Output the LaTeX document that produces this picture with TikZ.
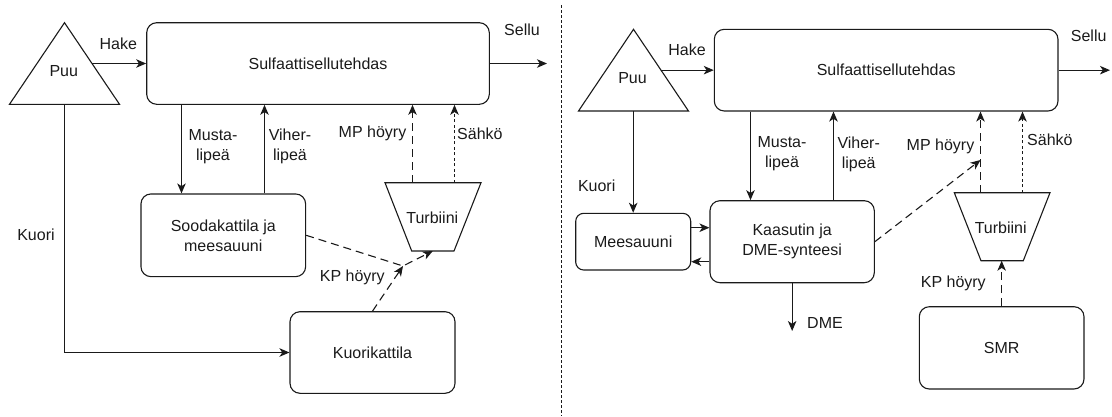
\documentclass[tikz,border=0pt]{standalone}
\usepackage{fontspec}
\setmainfont{Liberation Sans}
\usetikzlibrary{arrows.meta}
\definecolor{ink}{HTML}{1A1A1A}
\begin{document}
\begin{tikzpicture}[x=1pt,y=-1pt,
  font=\fontsize{16}{20}\selectfont,
  every node/.style={text=ink},
  box/.style={draw=ink, line width=1.1pt, rounded corners=10pt, inner sep=0pt, align=center},
  smallbox/.style={box, rounded corners=8pt},
  lbl/.style={inner sep=0pt, align=center},
  ln/.style={draw=ink, line width=1.1pt},
  arr/.style={draw=ink, line width=1.1pt, -{Stealth[length=10pt,width=8.5pt,inset=2.8pt]}},
  dsh/.style={dash pattern=on 8pt off 5pt},
  dtd/.style={dash pattern=on 3pt off 2.5pt},
  sep/.style={draw=ink, line width=1pt, dash pattern=on 3pt off 2pt}]
\useasboundingbox (0,0) rectangle (1112,416);

% ================= LEFT PANEL =================
% Puu triangle
\coordinate (puu1top) at (64.5,22.7);
\coordinate (puu1bl) at (9.5,104.3);
\coordinate (puu1br) at (119.5,104.3);
\draw[ln, line join=miter] (puu1top) -- (puu1br) -- (puu1bl) -- cycle;
\node[lbl] (puu1) at (63.8,70.7) {Puu};
\coordinate (puu1hake) at (91.9,63.5);
\coordinate (puu1base) at (64.5,104.3);

\node[box, minimum width=342.6pt, minimum height=81.6pt] (sulf1) at (318,63.5) {Sulfaattisellutehdas};
\node[box, minimum width=164.7pt, minimum height=82.7pt] (sooda) at (223.3,235.3) {Soodakattila ja\\meesauuni};
\node[box, minimum width=165pt, minimum height=81.6pt] (kuorik) at (372.5,352.5) {Kuorikattila};

% Turbiini (left)
\coordinate (tb1tl) at (385,182.7);
\coordinate (tb1tr) at (481,182.7);
\coordinate (tb1br) at (454,251);
\coordinate (tb1bl) at (411.7,251);
\draw[ln, line join=miter] (tb1tl) -- (tb1tr) -- (tb1br) -- (tb1bl) -- cycle;
\node[lbl] (tb1) at (432.3,217.7) {Turbiini};
\coordinate (tb1mp) at (412.5,182.7);
\coordinate (tb1el) at (454.5,182.7);
\coordinate (tb1bot) at (432.8,251);

\coordinate (sellu1end) at (547,63.5);
\coordinate (j1) at (403,266);

% connectors
\draw[arr] (puu1hake) -- (puu1hake -| sulf1.west);
\draw[arr] (sulf1.east) -- (sellu1end);
\draw[arr] (sulf1.south -| 181.5,0) -- (sooda.north -| 181.5,0);
\draw[arr] (sooda.north -| 264.5,0) -- (sulf1.south -| 264.5,0);
\draw[arr,dsh] (tb1mp) -- (tb1mp |- sulf1.south);
\draw[arr,dtd] (tb1el) -- (tb1el |- sulf1.south);
\draw[arr,dsh] (sooda.east) -- (j1) -- (tb1bot);
\draw[arr,dsh] (kuorik.north) -- (j1);
\draw[arr] (puu1base) |- (kuorik.west);

% labels
\node[lbl] (hake1) at (118.3,43.3) {Hake};
\node[lbl] (sellu1) at (522,30) {Sellu};
\node[lbl] (musta1) at (213,146.7) {Musta-\\lipeä};
\node[lbl] (viher1) at (290,146.7) {Viher-\\lipeä};
\node[lbl, anchor=east] (mp1) at (406.5,133.3) {MP höyry};
\node[lbl, anchor=west] (el1) at (457,133.3) {Sähkö};
\node[lbl] (kp1) at (352.3,277.3) {KP höyry};
\node[lbl] (kuori1) at (36,235) {Kuori};

% separator
\coordinate (septop) at (561.5,5);
\coordinate (sepbot) at (561.5,416);
\draw[sep] (septop) -- (sepbot);

% ================= RIGHT PANEL =================
\coordinate (puu2top) at (633.5,29.3);
\coordinate (puu2bl) at (578.5,111);
\coordinate (puu2br) at (688.5,111);
\draw[ln, line join=miter] (puu2top) -- (puu2br) -- (puu2bl) -- cycle;
\node[lbl] (puu2) at (632.5,78) {Puu};
\coordinate (puu2hake) at (661.4,70.15);
\coordinate (puu2base) at (633.2,111);

\node[box, minimum width=343.7pt, minimum height=81.7pt] (sulf2) at (886.15,70.15) {Sulfaattisellutehdas};
\node[smallbox, minimum width=115pt, minimum height=56.7pt] (meesa) at (633.2,241.65) {Meesauuni};
\node[box, minimum width=164.3pt, minimum height=82pt] (kaas) at (792.15,241.7) {Kaasutin ja\\DME-synteesi};
\node[box, minimum width=164.7pt, minimum height=82.3pt] (smr) at (1001.65,347.85) {SMR};

% Turbiini (right)
\coordinate (tb2tl) at (954.3,192.7);
\coordinate (tb2tr) at (1050,192.7);
\coordinate (tb2br) at (1023.3,260.7);
\coordinate (tb2bl) at (981,260.7);
\draw[ln, line join=miter] (tb2tl) -- (tb2tr) -- (tb2br) -- (tb2bl) -- cycle;
\node[lbl] (tb2) at (1000.7,227.3) {Turbiini};
\coordinate (tb2mp) at (980.5,192.7);
\coordinate (tb2el) at (1022.5,192.7);
\coordinate (tb2bot) at (1001.65,260.7);

\coordinate (sellu2end) at (1110,70.15);
\coordinate (dmeend) at (792.15,331);
\coordinate (mp2j) at (980.5,160);

% connectors
\draw[arr] (puu2hake) -- (puu2hake -| sulf2.west);
\draw[arr] (sulf2.east) -- (sellu2end);
\draw[arr] (puu2base) -- (meesa.north);
\draw[arr] (sulf2.south -| 750.5,0) -- (kaas.north -| 750.5,0);
\draw[arr] (kaas.north -| 833.5,0) -- (sulf2.south -| 833.5,0);
\draw[arr] (meesa.east |- 0,227.7) -- (kaas.west |- 0,227.7);
\draw[arr] (kaas.west |- 0,261.7) -- (meesa.east |- 0,261.7);
\draw[arr] (kaas.south) -- (dmeend);
\draw[arr,dsh] (kaas.east) -- (mp2j);
\draw[arr,dsh] (tb2mp) -- (tb2mp |- sulf2.south);
\draw[arr,dtd] (tb2el) -- (tb2el |- sulf2.south);
\draw[arr,dsh] (smr.north) -- (tb2bot);

% labels
\node[lbl] (hake2) at (687,50) {Hake};
\node[lbl] (sellu2) at (1088.7,36) {Sellu};
\node[lbl] (kuori2) at (596.7,186) {Kuori};
\node[lbl] (musta2) at (782,154) {Musta-\\lipeä};
\node[lbl] (viher2) at (858.7,154) {Viher-\\lipeä};
\node[lbl, anchor=east] (mp2) at (974.5,146.7) {MP höyry};
\node[lbl, anchor=west] (el2) at (1027,139.3) {Sähkö};
\node[lbl] (dme) at (825,323.3) {DME};
\node[lbl] (kp2) at (953.3,283.3) {KP höyry};
\end{tikzpicture}
\end{document}
